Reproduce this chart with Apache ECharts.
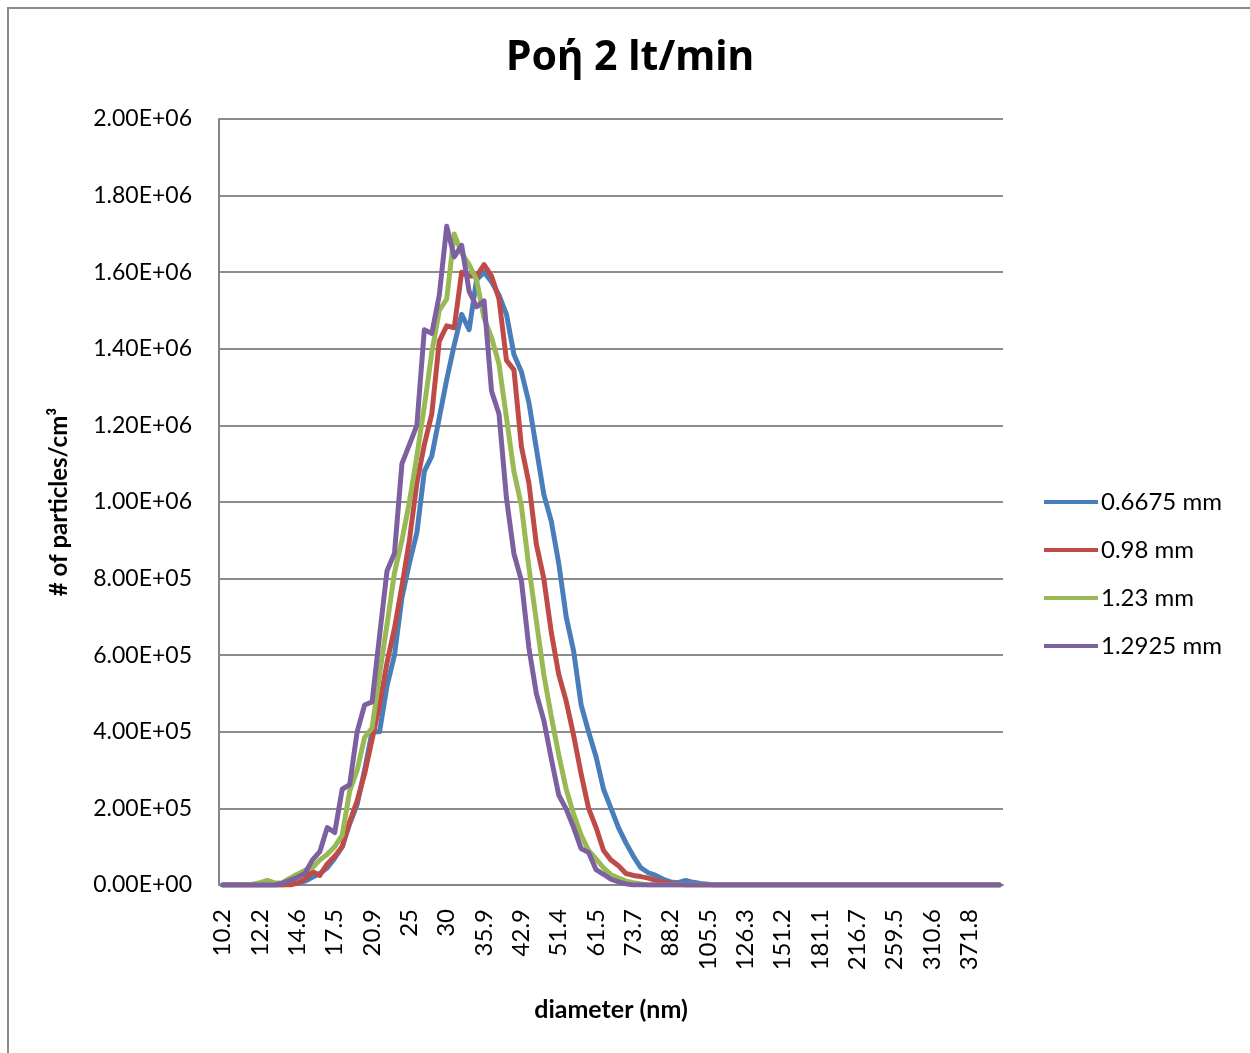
<!DOCTYPE html>
<html>
<head>
<meta charset="utf-8">
<script src="https://cdn.jsdelivr.net/npm/echarts@6/dist/echarts.min.js"></script>
<style>
  html, body { margin: 0; padding: 0; background: #ffffff; }
  #chart { width: 1250px; height: 1053px; }
</style>
</head>
<body>
<div id="chart"></div>
<script>
// Particle size bins (nm), SMPS 64 channels/decade
const diameters = [
  '10.2','10.6','10.9','11.3','11.8','12.2','12.6','13.1','13.6','14.1',
  '14.6','15.1','15.7','16.3','16.8','17.5','18.1','18.8','19.5','20.2',
  '20.9','21.7','22.5','23.3','24.1','25','25.9','26.9','27.9','28.9',
  '30','31.1','32.2','33.4','34.6','35.9','37.2','38.5','40','41.4',
  '42.9','44.5','46.1','47.8','49.6','51.4','53.3','55.2','57.3','59.4',
  '61.5','63.8','66.1','68.5','71','73.7','76.4','79.1','82','85.1',
  '88.2','91.4','94.7','98.2','101.8','105.5','109.4','113.4','117.6','121.9',
  '126.3','131','135.8','140.7','145.9','151.2','156.8','162.5','168.5','174.7',
  '181.1','187.7','194.6','201.7','209.1','216.7','224.7','232.9','241.4','250.3',
  '259.5','269','278.8','289','299.6','310.6','322','333.8','346','358.7',
  '371.8','385.4','399.5','414.2','429.4'
];

// Number concentration (#/cm3) per bin
const conc_0_6675mm = [
  0,0,0,0,0,0,0,0,0,3000,
  5000,10000,20000,30000,45000,70000,100000,160000,210000,300000,
  400000,400000,520000,600000,750000,840000,920000,1080000,1120000,1220000,
  1320000,1410000,1490000,1450000,1580000,1600000,1575000,1540000,1490000,1385000,
  1340000,1260000,1140000,1020000,950000,840000,700000,610000,470000,400000,
  335000,250000,200000,150000,110000,75000,45000,32000,25000,15000,
  8000,6000,12000,7000,4000,2000,0,0,0,0,
  0,0,0,0,0,0,0,0,0,0,
  0,0,0,0,0,0,0,0,0,0,
  0,0,0,0,0,0,0,0,0,0,
  0,0,0,0,0
];

const conc_0_98mm = [
  0,0,0,0,0,0,0,0,0,0,
  5000,15000,35000,25000,55000,75000,100000,165000,220000,290000,
  380000,470000,580000,670000,780000,900000,1050000,1150000,1230000,1420000,
  1460000,1455000,1600000,1590000,1590000,1620000,1590000,1530000,1370000,1345000,
  1145000,1050000,890000,800000,660000,550000,480000,390000,290000,200000,
  150000,90000,65000,50000,30000,25000,22000,18000,12000,8000,
  4000,2000,0,0,0,0,0,0,0,0,
  0,0,0,0,0,0,0,0,0,0,
  0,0,0,0,0,0,0,0,0,0,
  0,0,0,0,0,0,0,0,0,0,
  0,0,0,0,0
];

const conc_1_23mm = [
  0,0,0,0,2000,6000,12000,5000,6000,18000,
  28000,38000,45000,65000,80000,100000,130000,245000,300000,385000,
  410000,550000,680000,815000,900000,1000000,1120000,1250000,1390000,1500000,
  1530000,1700000,1650000,1620000,1580000,1480000,1430000,1360000,1220000,1080000,
  990000,830000,690000,550000,440000,340000,250000,185000,130000,90000,
  68000,45000,27000,18000,10000,6000,3000,0,0,0,
  0,0,0,0,0,0,0,0,0,0,
  0,0,0,0,0,0,0,0,0,0,
  0,0,0,0,0,0,0,0,0,0,
  0,0,0,0,0,0,0,0,0,0,
  0,0,0,0,0
];

const conc_1_2925mm = [
  0,0,0,0,0,0,0,0,5000,12000,
  20000,30000,65000,87000,150000,137000,250000,262000,400000,470000,
  478000,650000,820000,866000,1100000,1150000,1200000,1450000,1440000,1540000,
  1720000,1640000,1670000,1550000,1510000,1525000,1290000,1230000,1010000,865000,
  795000,620000,500000,430000,330000,235000,198000,150000,95000,85000,
  40000,28000,15000,8000,3000,0,0,0,0,0,
  0,0,0,0,0,0,0,0,0,0,
  0,0,0,0,0,0,0,0,0,0,
  0,0,0,0,0,0,0,0,0,0,
  0,0,0,0,0,0,0,0,0,0,
  0,0,0,0,0
];

const seriesNames = ['0.6675 mm', '0.98 mm', '1.23 mm', '1.2925 mm'];
const seriesData = [conc_0_6675mm, conc_0_98mm, conc_1_23mm, conc_1_2925mm];
const seriesColors = ['#4A7EBB', '#BE4B48', '#98B954', '#7D60A0'];

// Value axis ticks
const yMin = 0;
const yMax = 2000000;
const yStep = 200000;

const FONT = 'Lato, "Noto Sans", "Open Sans", sans-serif';

// 0.00E+00 style number format
function sci(v) {
  if (v === 0) return '0.00E+00';
  let exp = Math.floor(Math.log10(Math.abs(v)));
  let mant = v / Math.pow(10, exp);
  if (Math.abs(mant) >= 9.995) { mant /= 10; exp += 1; }
  const sign = exp < 0 ? '-' : '+';
  const e = String(Math.abs(exp)).padStart(2, '0');
  return mant.toFixed(2) + 'E' + sign + e;
}

const chart = echarts.init(document.getElementById('chart'), null, { renderer: 'canvas' });

chart.setOption({
  backgroundColor: '#ffffff',
  animation: false,
  title: {
    text: 'Ροή 2 lt/min',
    left: 506,
    top: 38,
    padding: 0,
    textStyle: {
      fontFamily: '"Noto Sans", "Open Sans", sans-serif',
      fontWeight: 'bold',
      fontSize: 41,
      color: '#000000'
    }
  },
  graphic: [{
    type: 'rect',
    silent: true,
    shape: { x: 8, y: 8, width: 1260, height: 1060 },
    style: { fill: 'none', stroke: '#8a8a8a', lineWidth: 2 }
  }],
  legend: {
    orient: 'vertical',
    left: 1044,
    top: 490,
    padding: 0,
    itemWidth: 54,
    itemHeight: 4,
    itemGap: 24,
    icon: 'rect',
    data: seriesNames,
    textStyle: {
      fontFamily: FONT,
      fontSize: 24,
      lineHeight: 24,
      color: '#000000',
      padding: [0, 0, 0, -2]
    }
  },
  grid: {
    left: 219,
    top: 119,
    right: 247,
    bottom: 168,
    containLabel: false
  },
  xAxis: {
    type: 'category',
    data: diameters,
    boundaryGap: true,
    name: 'diameter (nm)',
    nameLocation: 'middle',
    nameGap: 112,
    nameTextStyle: {
      fontFamily: FONT,
      fontWeight: 'bold',
      fontSize: 25,
      color: '#000000'
    },
    axisLine: { show: true, lineStyle: { color: '#868686', width: 2 } },
    axisTick: { show: false },
    axisLabel: {
      interval: 4,
      rotate: 90,
      margin: 24,
      padding: [7, 0, 0, 0],
      fontFamily: FONT,
      fontSize: 24,
      color: '#000000'
    },
    splitLine: { show: false }
  },
  yAxis: {
    type: 'value',
    min: yMin,
    max: yMax,
    interval: yStep,
    name: '# of particles/cm³',
    nameLocation: 'middle',
    nameGap: 148,
    nameTextStyle: {
      fontFamily: FONT,
      fontWeight: 'bold',
      fontSize: 24,
      color: '#000000'
    },
    axisLine: { show: true, lineStyle: { color: '#868686', width: 2 } },
    axisTick: { show: false },
    axisLabel: {
      margin: 27,
      fontFamily: FONT,
      fontSize: 23,
      color: '#000000',
      formatter: sci
    },
    splitLine: { show: true, lineStyle: { color: '#8c8c8c', width: 2 } }
  },
  series: seriesNames.map((name, k) => ({
    name: name,
    type: 'line',
    data: seriesData[k],
    symbol: 'none',
    smooth: false,
    z: 2 + k,
    lineStyle: { color: seriesColors[k], width: 5, cap: 'round', join: 'round' },
    itemStyle: { color: seriesColors[k] }
  }))
});
</script>
</body>
</html>
